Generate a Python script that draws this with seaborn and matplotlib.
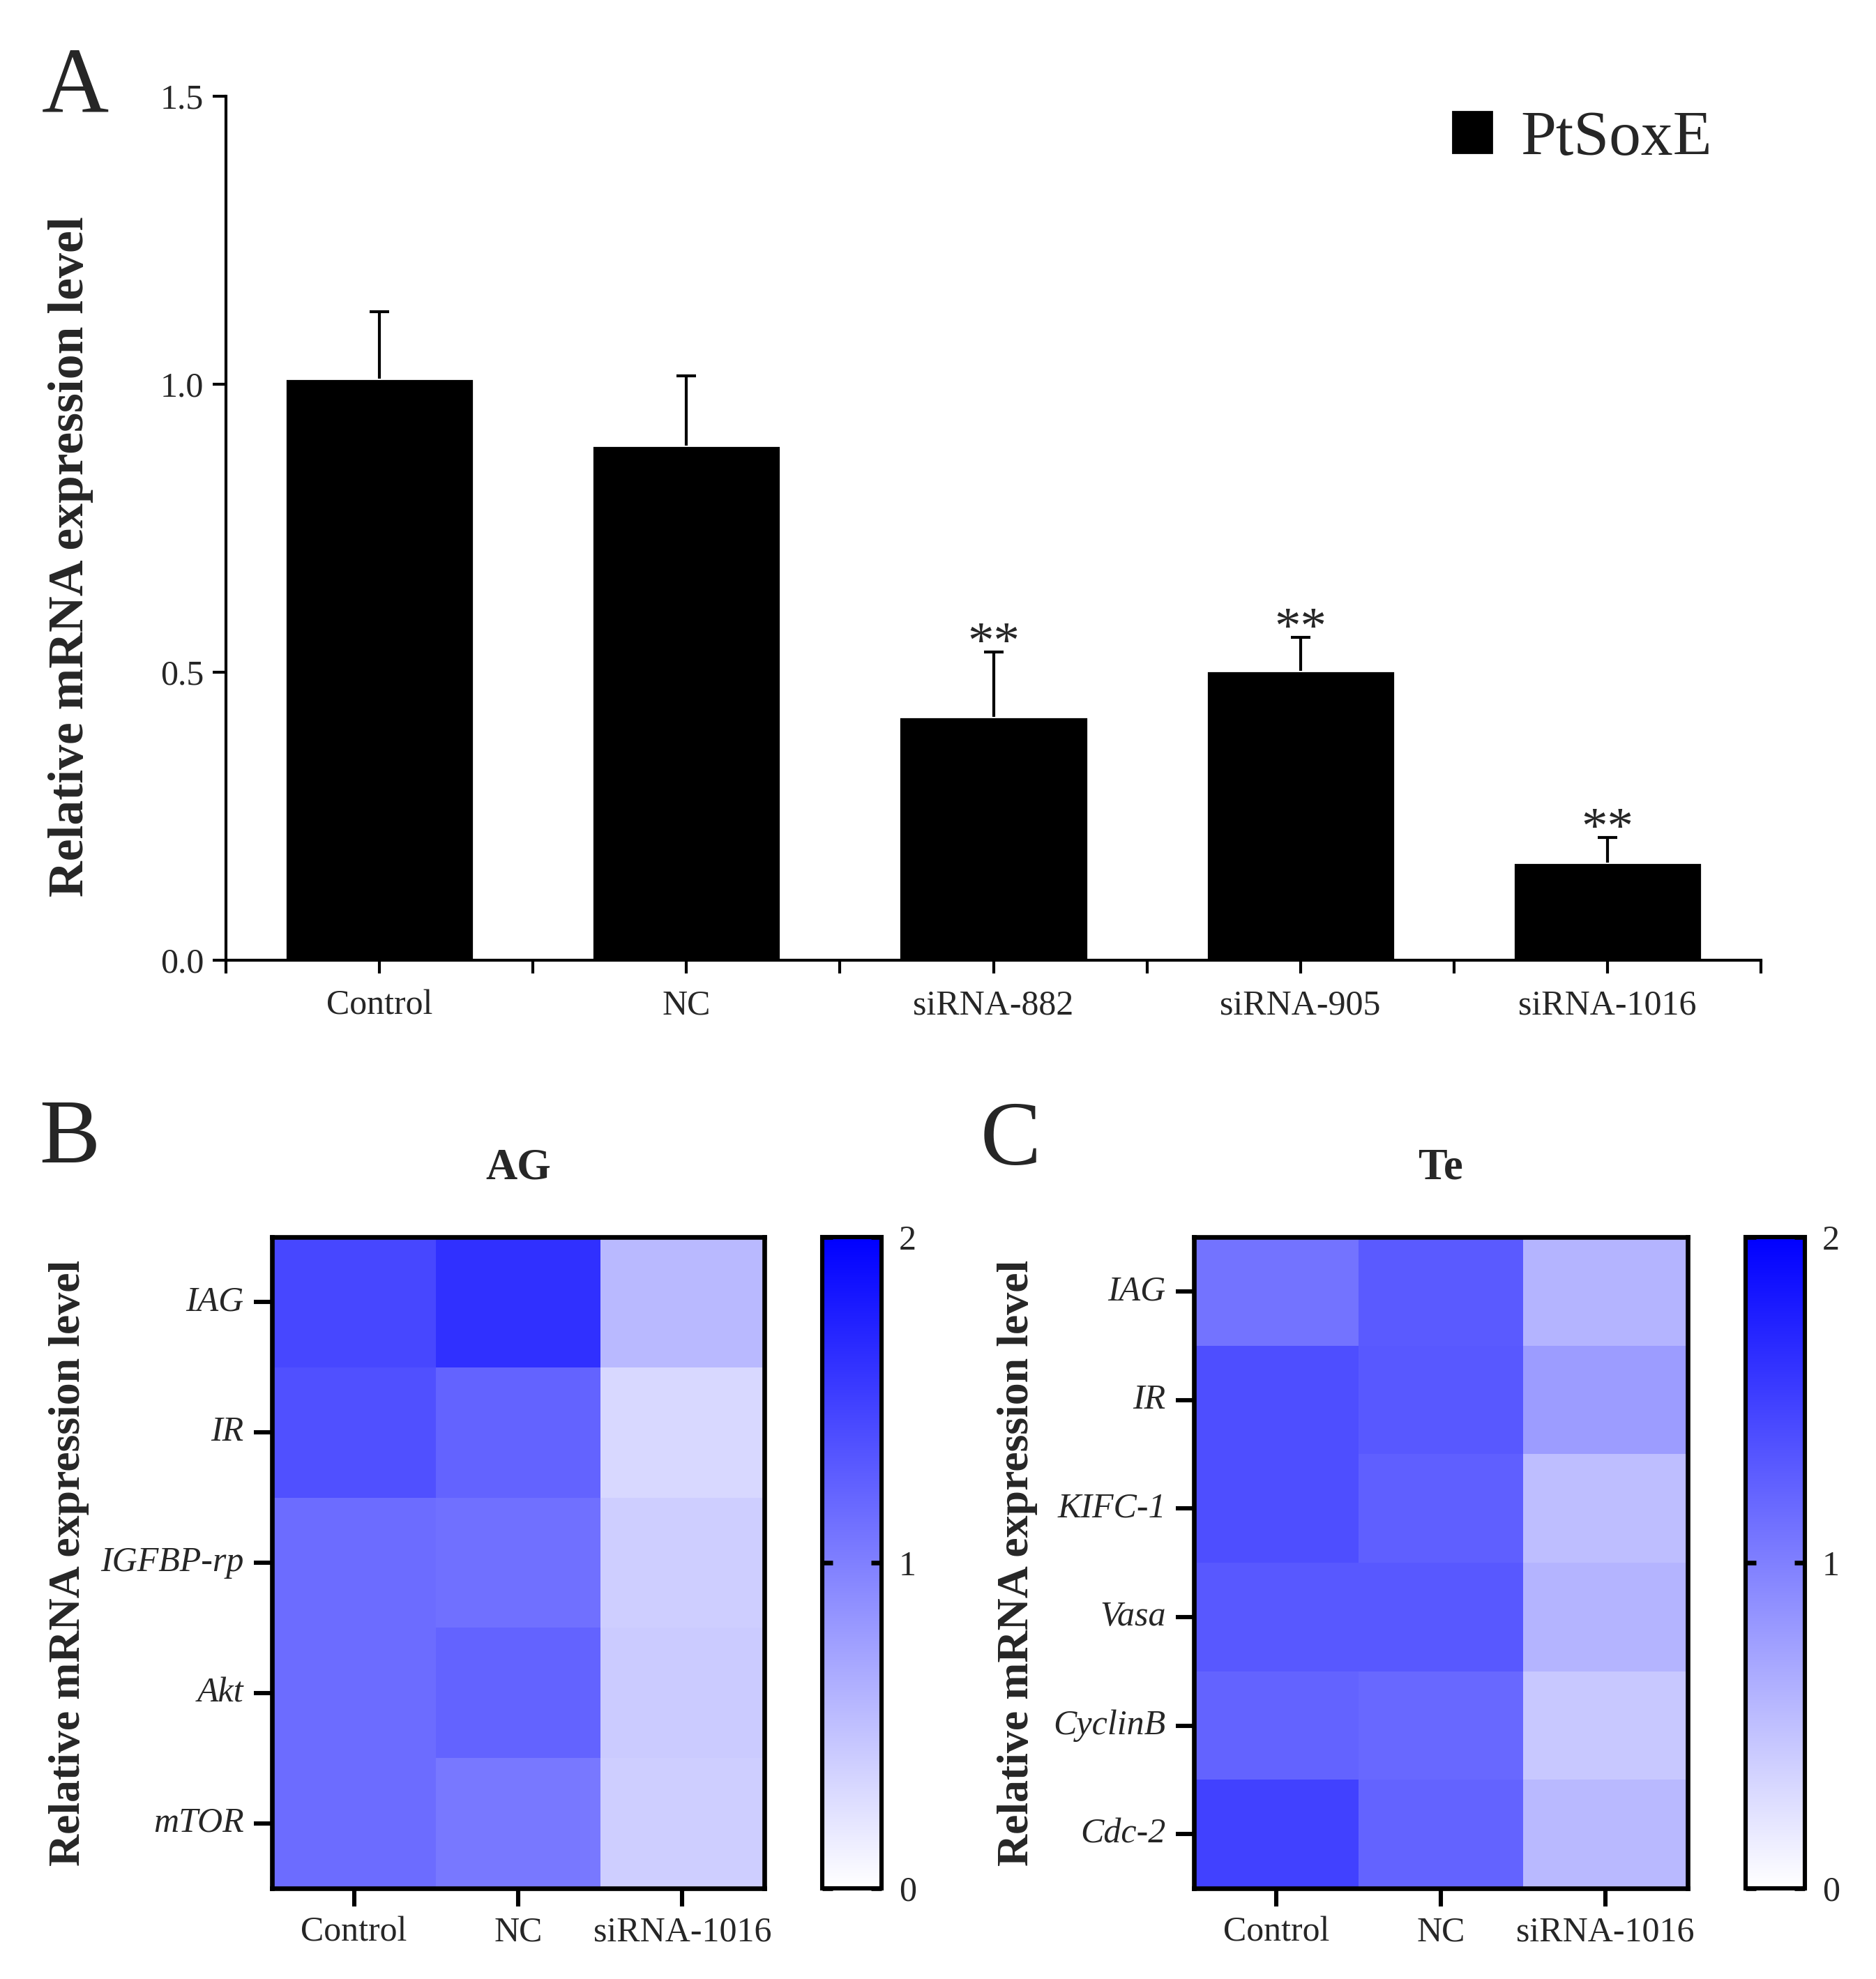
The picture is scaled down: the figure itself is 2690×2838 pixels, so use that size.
import numpy as np
import pandas as pd
import matplotlib
matplotlib.use("Agg")
import matplotlib.pyplot as plt
from matplotlib.colors import LinearSegmentedColormap
from matplotlib.patches import Patch
import seaborn as sns

# ---------------- data ----------------
bar_categories = ["Control", "NC", "siRNA-882", "siRNA-905", "siRNA-1016"]
bar_values = [1.01, 0.893, 0.423, 0.502, 0.169]
bar_errors = [0.116, 0.122, 0.112, 0.059, 0.044]
bar_signif = ["", "", "**", "**", "**"]
legend_label = "PtSoxE"

heat_columns = ["Control", "NC", "siRNA-1016"]

ag_genes = ["IAG", "IR", "IGFBP-rp", "Akt", "mTOR"]
ag_control = [1.44, 1.37, 1.15, 1.15, 1.15]
ag_nc = [1.62, 1.22, 1.12, 1.22, 1.06]
ag_sirna = [0.55, 0.31, 0.39, 0.41, 0.39]

te_genes = ["IAG", "IR", "KIFC-1", "Vasa", "CyclinB", "Cdc-2"]
te_control = [1.10, 1.39, 1.39, 1.31, 1.22, 1.49]
te_nc = [1.29, 1.31, 1.25, 1.31, 1.18, 1.22]
te_sirna = [0.59, 0.78, 0.51, 0.59, 0.43, 0.55]

# ---------------- style ----------------
sns.set_style("white")
plt.rcParams["font.family"] = ["Liberation Serif", "DejaVu Serif"]
plt.rcParams["axes.axisbelow"] = False

W, H = 2690, 2838
DPI = 200
fig = plt.figure(figsize=(W / DPI, H / DPI), dpi=DPI)


def frac_rect(x0, y0, x1, y1):
    return [x0 / W, 1 - y1 / H, (x1 - x0) / W, (y1 - y0) / H]


# ---------------- Panel A: bar chart ----------------
axA = fig.add_axes(frac_rect(324, 138, 2525, 1377))
dfA = pd.DataFrame({"group": bar_categories, "value": bar_values})
sns.barplot(data=dfA, x="group", y="value", color="black", saturation=1,
            width=0.614, errorbar=None, ax=axA, zorder=2)
xpos = np.arange(len(bar_categories))
eb = axA.errorbar(xpos, bar_values, yerr=[np.zeros(len(bar_values)), bar_errors],
                  fmt="none", ecolor="black", elinewidth=1.5, capsize=5.2,
                  capthick=1.5, zorder=3)
# hide the lower caps (GraphPad style: only the upper whisker is shown)
if len(eb[1]) == 2:
    eb[1][0].set_visible(False)
for x, v, e, s in zip(xpos, bar_values, bar_errors, bar_signif):
    if s:
        axA.annotate(s, xy=(x, v + e), xytext=(0, -3), textcoords="offset points",
                     ha="center", va="baseline", fontsize=27)

axA.set_xlim(-0.5, len(bar_categories) - 0.5)
axA.set_ylim(0, 1.5)
axA.set_yticks([0, 0.5, 1.0, 1.5])
axA.set_yticklabels(["0.0", "0.5", "1.0", "1.5"])
axA.set_xticks(xpos)
axA.set_xticks(np.arange(-0.5, len(bar_categories), 1.0), minor=True)
axA.set_xticklabels(bar_categories)
axA.set_xlabel("")
axA.set_ylabel("Relative mRNA expression level", fontsize=25.8, fontweight="bold",
               va="center")
axA.yaxis.set_label_coords(-0.101, 0.467)
for side in ["top", "right"]:
    axA.spines[side].set_visible(False)
for side in ["left", "bottom"]:
    axA.spines[side].set_linewidth(1.5)
    axA.spines[side].set_color("black")
axA.tick_params(axis="both", which="both", direction="out", length=7, width=1.5,
                color="black", labelsize=18)
axA.tick_params(axis="x", which="both", bottom=True, pad=8)
axA.tick_params(axis="y", left=True, pad=4.5)
axA.legend(handles=[Patch(facecolor="black", edgecolor="black", label=legend_label)],
           loc="upper right", bbox_to_anchor=(0.985, 1.013), frameon=False,
           fontsize=33, handlelength=0.62, handleheight=0.62, handletextpad=0.45,
           borderaxespad=0)

# ---------------- Heatmaps ----------------
cmap = LinearSegmentedColormap.from_list("white_blue", ["#FFFFFF", "#0000FF"])


def draw_heat(ax, cax, df, title, ylabel_x):
    sns.heatmap(df, ax=ax, cbar_ax=cax, cmap=cmap, vmin=0, vmax=2,
                linewidths=0, xticklabels=True, yticklabels=True)
    ax.set_title(title, fontsize=22.5, fontweight="bold", pad=30)
    for sp in ax.spines.values():
        sp.set_visible(True)
        sp.set_linewidth(2.4)
        sp.set_color("black")
    ax.tick_params(axis="both", which="major", direction="out", length=9.5,
                   width=2.2, color="black", labelsize=18, left=True,
                   bottom=True, pad=5)
    ax.set_yticklabels(df.index, rotation=0, fontstyle="italic")
    ax.set_xticklabels(df.columns, rotation=0)
    ax.set_xlabel("")
    ax.set_ylabel("Relative mRNA expression level", fontsize=23,
                  fontweight="bold", va="center")
    ax.yaxis.set_label_coords(ylabel_x, 0.5)
    cb = ax.collections[0].colorbar
    cb.set_ticks([0, 1, 2])
    cb.set_ticklabels(["0", "1", "2"])
    cb.outline.set_linewidth(2.2)
    cb.outline.set_edgecolor("black")
    cb.ax.set_axisbelow(False)
    cb.ax.yaxis.set_tick_params(which="major", direction="in", left=True,
                                right=True, labelleft=False, labelright=True,
                                length=5.5, width=2.4, color="black",
                                labelsize=18, pad=9)
    cb.ax.yaxis.set_tick_params(which="minor", length=0)


dfB = pd.DataFrame({"Control": ag_control, "NC": ag_nc, "siRNA-1016": ag_sirna},
                   index=ag_genes)[heat_columns]
dfC = pd.DataFrame({"Control": te_control, "NC": te_nc, "siRNA-1016": te_sirna},
                   index=te_genes)[heat_columns]

axB = fig.add_axes(frac_rect(390, 1774, 1096, 2708))
caxB = fig.add_axes(frac_rect(1179, 1774, 1264, 2708))
draw_heat(axB, caxB, dfB, "AG", -0.412)

axC = fig.add_axes(frac_rect(1712, 1774, 2420, 2708))
caxC = fig.add_axes(frac_rect(2503, 1774, 2588, 2708))
draw_heat(axC, caxC, dfC, "Te", -0.358)

# ---------------- Panel letters ----------------
fig.text(60 / W, 1 - 160 / H, "A", fontsize=48, ha="left", va="baseline")
fig.text(56 / W, 1 - 1667 / H, "B", fontsize=47, ha="left", va="baseline")
fig.text(1406 / W, 1 - 1670 / H, "C", fontsize=47, ha="left", va="baseline")

fig.savefig("out.png", dpi=DPI, facecolor="white")
